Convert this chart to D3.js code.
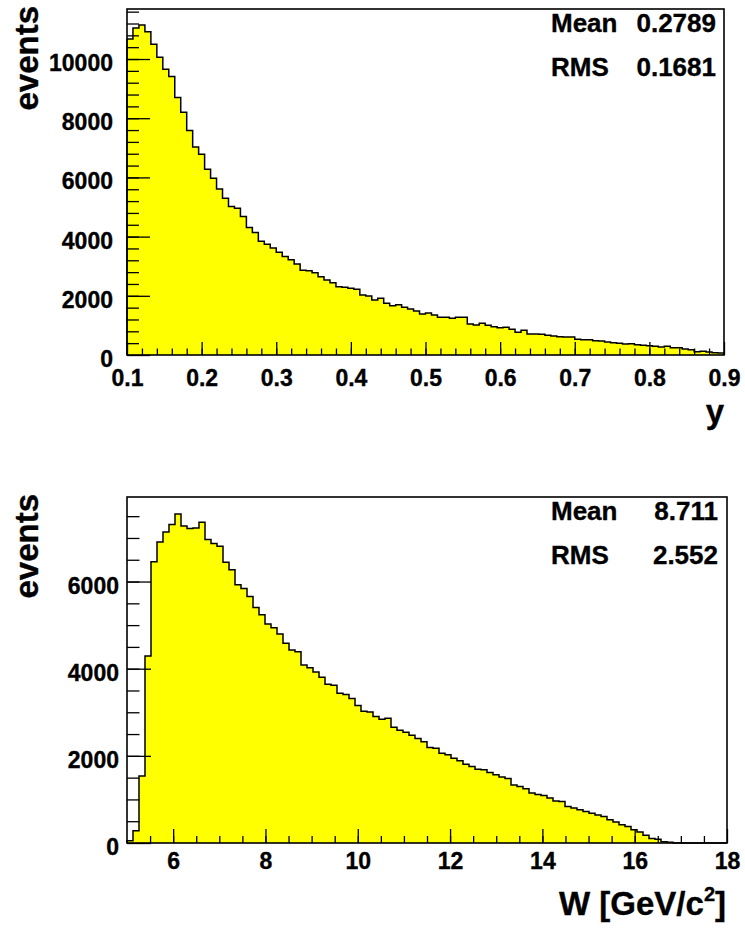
<!DOCTYPE html>
<html><head><meta charset="utf-8">
<script src="https://cdn.jsdelivr.net/npm/d3@7"></script>
<style>
body{margin:0;background:#fff;}
svg text{font-family:"Liberation Sans",Arial,Helvetica,sans-serif;font-weight:bold;fill:#000;stroke:#000;stroke-width:0.35px;}
</style></head><body>
<svg id="c" width="745" height="930"></svg>
<script>
// ---- Data: top panel (y distribution), 100 bins from 0.1 to 0.9
const yRange = [0.1, 0.9];
const yCounts = [
 10680,11050,11150,10920,10500,10060,9655,9408,8698,8202,
 7583,7030,6783,6276,5972,5611,5295,5014,4957,4676,
 4304,4135,3842,3741,3617,3470,3324,3222,3076,2860,
 2850,2783,2648,2535,2445,2310,2287,2253,2220,2028,
 1994,1859,1915,1746,1668,1701,1611,1555,1487,1386,
 1420,1352,1273,1273,1239,1273,1273,1048,1014,1070,
 1003,958,924,935,867,766,834,710,710,699,
 665,642,620,608,608,530,518,518,484,473,
 439,417,394,372,383,349,327,315,293,270,
 293,248,248,203,180,113,124,101,79,68];
const yMajorX = [0.1,0.2,0.3,0.4,0.5,0.6,0.7,0.8,0.9];
const yMajorXLabels = ["0.1","0.2","0.3","0.4","0.5","0.6","0.7","0.8","0.9"];
const yMajorY = [0,2000,4000,6000,8000,10000];
const yStats = [["Mean","0.2789"],["RMS","0.1681"]];

// ---- Data: bottom panel (W distribution), 100 bins from 5 to 18
const wRange = [5, 18];
const wCounts = [
 53,282,1535,4291,6452,6910,7139,7308,7552,7277,
 7216,7231,7361,6965,6873,6811,6445,6269,5925,5842,
 5659,5407,5238,5024,4940,4795,4582,4429,4390,4085,
 4020,3925,3803,3643,3620,3437,3406,3314,3153,3024,
 3008,2901,2841,2864,2658,2589,2543,2474,2398,2321,
 2192,2176,2062,2024,1947,1886,1810,1756,1695,1680,
 1619,1565,1512,1481,1329,1298,1244,1145,1115,1092,
 1031,962,954,840,802,764,725,680,641,611,
 534,481,420,381,305,252,175,106,84,31,
 15,0,0,0,0,0,0,0,0,0];
const wMajorX = [6,8,10,12,14,16,18];
const wMajorXLabels = ["6","8","10","12","14","16","18"];
const wMajorY = [0,2000,4000,6000];
const wStats = [["Mean","8.711"],["RMS","2.552"]];

const svg = d3.select("#c");

function range(a, b, step){ const out=[]; const n=Math.round((b-a)/step); for(let i=0;i<=n;i++) out.push(+(a+i*step).toFixed(6)); return out; }

function panel(cfg){
  const x = d3.scaleLinear().domain(cfg.xr).range([cfg.L, cfg.R]);
  const y = d3.scaleLinear().domain([0, cfg.ymax]).range([cfg.B, cfg.T]);
  const g = svg.append("g");
  const n = cfg.counts.length;
  const bw = (cfg.xr[1]-cfg.xr[0])/n;
  const pts = cfg.counts.map((c,i)=>[cfg.xr[0]+i*bw, c]);
  pts.push([cfg.xr[1], cfg.counts[n-1]]);

  const area = d3.area().x(d=>x(d[0])).y0(y(0)).y1(d=>y(d[1])).curve(d3.curveStepAfter);
  g.append("path").attr("d", area(pts)).attr("fill","#ffff00").attr("stroke","none");
  const outline = [[cfg.xr[0],0]].concat(pts).concat([[cfg.xr[1],0]]);
  const line = d3.line().x(d=>x(d[0])).y(d=>y(d[1])).curve(d3.curveStepAfter);
  g.append("path").attr("d", line(outline)).attr("fill","none").attr("stroke","#000").attr("stroke-width",1.5);

  // minor ticks
  const minorX = range(cfg.xr[0], cfg.xr[1], cfg.xMinor).filter(v=>v>cfg.xr[0]+1e-9 && v<cfg.xr[1]-1e-9);
  const minorY = range(0, cfg.ymax, cfg.yMinor).filter(v=>v>0 && v<cfg.ymax);
  g.append("g").attr("transform",`translate(0,${cfg.B})`)
    .call(d3.axisBottom(x).tickValues(minorX).tickSize(-cfg.xMinorLen).tickSizeOuter(0).tickFormat(""))
    .call(a=>a.select(".domain").remove())
    .call(a=>a.selectAll("line").attr("stroke","#000").attr("stroke-width",1.3));
  g.append("g").attr("transform",`translate(${cfg.L},0)`)
    .call(d3.axisLeft(y).tickValues(minorY).tickSize(-cfg.yMinorLen).tickSizeOuter(0).tickFormat(""))
    .call(a=>a.select(".domain").remove())
    .call(a=>a.selectAll("line").attr("stroke","#000").attr("stroke-width",1.3));

  // major ticks + labels
  g.append("g").attr("transform",`translate(0,${cfg.B})`)
    .call(d3.axisBottom(x).tickValues(cfg.majorX).tickSize(-cfg.xMajorLen).tickSizeOuter(0)
      .tickFormat((d,i)=>cfg.majorXLabels[i]))
    .call(a=>a.select(".domain").remove())
    .call(a=>a.selectAll("line").attr("stroke","#000").attr("stroke-width",1.3))
    .call(a=>a.selectAll("text").attr("dy",null).attr("y",cfg.xLabelBase)
      .attr("font-size",23).attr("fill","#000").attr("font-family",null));
  g.append("g").attr("transform",`translate(${cfg.L},0)`)
    .call(d3.axisLeft(y).tickValues(cfg.majorY).tickSize(-cfg.yMajorLen).tickSizeOuter(0)
      .tickFormat(d3.format("d")))
    .call(a=>a.select(".domain").remove())
    .call(a=>a.selectAll("line").attr("stroke","#000").attr("stroke-width",1.3))
    .call(a=>a.selectAll("text").attr("dy",null).attr("y",11.5).attr("x",cfg.yLabelX)
      .attr("font-size",23).attr("fill","#000").attr("font-family",null));

  // frame
  g.append("rect").attr("x",cfg.L).attr("y",cfg.T).attr("width",cfg.R-cfg.L).attr("height",cfg.B-cfg.T)
    .attr("fill","none").attr("stroke","#000").attr("stroke-width",1.6);

  // y title
  g.append("text").attr("transform",`translate(38,${cfg.T-3}) rotate(-90)`)
    .attr("text-anchor","end").attr("font-size",33).text("events");

  // stats
  cfg.stats.forEach((s,i)=>{
    const by = cfg.T + 23 + i*43.5;
    g.append("text").attr("x",551).attr("y",by).attr("font-size",26).text(s[0]);
    g.append("text").attr("x",cfg.statR).attr("y",by).attr("text-anchor","end").attr("font-size",26).text(s[1]);
  });
  return g;
}

panel({xr:yRange, counts:yCounts, ymax:11690, L:127, R:724, T:9, B:355,
  xMinor:0.02, yMinor:400, xMinorLen:6.5, yMinorLen:12, xMajorLen:13, yMajorLen:23,
  majorX:yMajorX, majorXLabels:yMajorXLabels, majorY:yMajorY,
  xLabelBase:31, yLabelX:-14, stats:yStats, statR:716});

panel({xr:wRange, counts:wCounts, ymax:7940, L:127, R:727, T:497, B:843,
  xMinor:0.5, yMinor:500, xMinorLen:7, yMinorLen:12.5, xMajorLen:14, yMajorLen:24,
  majorX:wMajorX, majorXLabels:wMajorXLabels, majorY:wMajorY,
  xLabelBase:26, yLabelX:-8, stats:wStats, statR:718});

// x titles
svg.append("text").attr("x",724).attr("y",423).attr("text-anchor","end").attr("font-size",33).text("y");
const wt = svg.append("text").attr("x",726).attr("y",915).attr("text-anchor","end").attr("font-size",33);
wt.append("tspan").text("W [GeV/c");
wt.append("tspan").attr("font-size",20).attr("dy",-14).text("2");
wt.append("tspan").attr("dy",14).text("]");
</script>
</body></html>
